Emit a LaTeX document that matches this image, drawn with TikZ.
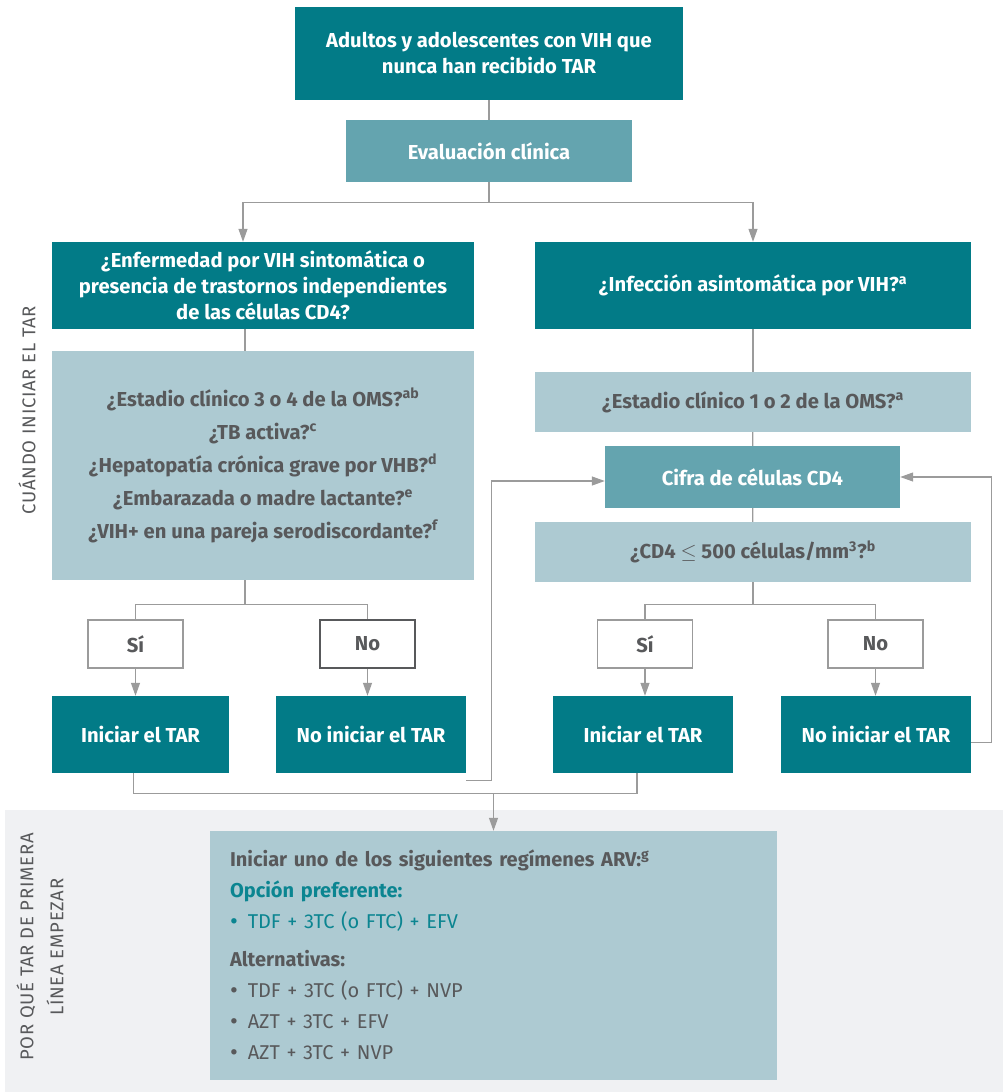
\documentclass[tikz,border=0pt]{standalone}
\usepackage{fontspec}
\setmainfont{Fira Sans}
\usepackage{xcolor}
\usetikzlibrary{positioning,arrows.meta}

\definecolor{tealdark}{HTML}{027B87}
\definecolor{tealmid}{HTML}{64A4AF}
\definecolor{bluelight}{HTML}{ADCAD2}
\definecolor{textgray}{HTML}{58595B}
\definecolor{linegray}{HTML}{9B9B9B}
\definecolor{bandgray}{HTML}{F0F1F3}
\definecolor{tealtext}{HTML}{0B8591}

\newcommand{\itm}{\raisebox{-1pt}{\fontsize{24}{0}\selectfont\textbullet}\hspace{10pt}}

\begin{document}
\begin{tikzpicture}[x=1pt, y=-1pt,
  box/.style={rectangle, inner sep=0pt, align=center, font=\bfseries\fontsize{20.2}{26}\selectfont},
  darkbox/.style={box, fill=tealdark, text=white},
  midbox/.style={box, fill=tealmid, text=white},
  lightbox/.style={box, fill=bluelight, text=textgray},
  answer/.style={box, draw=linegray, line width=1.1pt, fill=white, text=textgray, minimum width=95pt, minimum height=48pt},
  link/.style={draw=linegray, line width=1.2pt},
  arr/.style={link, -{Triangle[width=9pt,length=13pt]}},
  side/.style={rotate=90, text=textgray, font=\fontsize{18.5}{30}\selectfont\addfontfeatures{LetterSpace=4}, align=center}]

\useasboundingbox (0,0) rectangle (1003,1092);

% Lower band
\fill[bandgray] (5,810) rectangle (1003,1092);

% Side labels
\node[side] (when) at (27,410) {CUÁNDO INICIAR EL TAR};
\node[side] (which) at (40,947) {POR QUÉ TAR DE PRIMERA\\LÍNEA EMPEZAR};

% Top
\node[darkbox, minimum width=388pt, minimum height=93pt] (start) at (489,53.5)
  {Adultos y adolescentes con VIH que\\nunca han recibido TAR};
\node[midbox, minimum width=286pt, minimum height=62pt] (evalc) at (489,151) {Evaluación clínica};

% Left column
\node[darkbox, minimum width=422pt, minimum height=87pt] (symq) at (263,285.5)
  {¿Enfermedad por VIH sintomática o\\presencia de trastornos independientes\\de las células CD4?};
\node[lightbox, minimum width=422pt, minimum height=229pt, font=\bfseries\fontsize{20.2}{33}\selectfont] (critl) at (263,465.5)
  {¿Estadio clínico 3 o 4 de la OMS?\textsuperscript{ab}\\
   ¿TB activa?\textsuperscript{c}\\
   ¿Hepatopatía crónica grave por VHB?\textsuperscript{d}\\
   ¿Embarazada o madre lactante?\textsuperscript{e}\\
   ¿VIH+ en una pareja serodiscordante?\textsuperscript{f}};

% Right column
\node[darkbox, minimum width=436pt, minimum height=87pt] (asymq) at (753,285.5)
  {¿Infección asintomática por VIH?\textsuperscript{a}};
\node[lightbox, minimum width=436pt, minimum height=60pt] (stage12) at (753,402)
  {¿Estadio clínico 1 o 2 de la OMS?\textsuperscript{a}};
\node[midbox, minimum width=295pt, minimum height=62pt] (cd4) at (752.5,477) {Cifra de células CD4};
\node[lightbox, minimum width=436pt, minimum height=60pt] (cd4q) at (753,552)
  {¿CD4 $\leq$ 500 células/mm\textsuperscript{3}?\textsuperscript{b}};

% Answers
\node[answer] (yesl) at (135.5,644) {Sí};
\node[answer, draw=textgray] (nol) at (367.5,644) {No};
\node[answer] (yesr) at (645,644) {Sí};
\node[answer] (nor) at (875.5,644) {No};

% Outcomes
\node[darkbox, minimum width=177pt, minimum height=77pt] (startl) at (140.5,734.5) {Iniciar el TAR};
\node[darkbox, minimum width=190pt, minimum height=77pt] (nostartl) at (371,734.5) {No iniciar el TAR};
\node[darkbox, minimum width=180pt, minimum height=77pt] (startr) at (643,734.5) {Iniciar el TAR};
\node[darkbox, minimum width=190pt, minimum height=77pt] (nostartr) at (876,734.5) {No iniciar el TAR};

% Regimens
\node[lightbox, align=left, text width=527pt, inner xsep=20pt, minimum height=249pt,
  font=\fontsize{20}{31}\selectfont] (regimen) at (493.5,955.5)
  {{\bfseries Iniciar uno de los siguientes regímenes ARV:\textsuperscript{g}}\\
   {\bfseries\color{tealtext}Opción preferente:}\\
   {\color{tealtext}\itm TDF + 3TC (o FTC) + EFV}\\[7pt]
   {\bfseries Alternativas:}\\
   \itm TDF + 3TC (o FTC) + NVP\\
   \itm AZT + 3TC + EFV\\
   \itm AZT + 3TC + NVP};

% Connectors, top
\draw[link] (start) -- (evalc);
\draw[link] (evalc.south) -- ++(0,20) coordinate (split);
\draw[arr] (split) -| ([xshift=-20pt]symq.north);
\draw[arr] (split) -| (asymq.north);

% Connectors, left
\draw[link] ([xshift=-18pt]symq.south) -- ([xshift=-18pt]critl.north);
\draw[link] ([xshift=-18pt]critl.south) -- ++(0,24) coordinate (lsplit);
\draw[link] (lsplit) -| (yesl.north);
\draw[link] (lsplit) -| (nol.north);
\draw[arr] (yesl.south) -- (yesl.south |- startl.north);
\draw[arr] (nol.south) -- (nol.south |- nostartl.north);

% Connectors, right
\draw[link] (asymq) -- (stage12);
\draw[link] (stage12) -- (cd4);
\draw[link] (cd4) -- (cd4q);
\draw[link] (cd4q.south) -- ++(0,22) coordinate (rsplit);
\draw[link] (rsplit) -| (yesr.north);
\draw[link] (rsplit) -| (nor.north);
\draw[arr] (yesr.south) -- (yesr.south |- startr.north);
\draw[arr] (nor.south) -- (nor.south |- nostartr.north);

% Loops back to CD4 count
\draw[arr] ([yshift=-7pt]nostartl.south east) -| ([xshift=-113pt,yshift=-4pt]cd4.west) -- ([yshift=-4pt]cd4.west);
\draw[arr] ([yshift=-8pt]nostartr.east) -- ++(20,0) |- (cd4.east);

% Merge into regimens
\draw[link] ([xshift=-7pt]startl.south) -- ++(0,20) coordinate (merge) -| ([xshift=-6pt]startr.south);
\draw[arr] (merge -| regimen.north) -- (regimen.north);

\end{tikzpicture}
\end{document}
